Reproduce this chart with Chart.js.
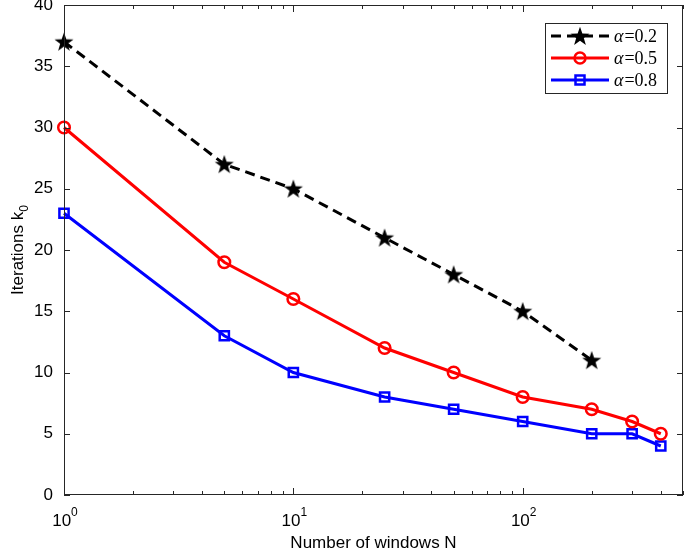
<!DOCTYPE html>
<html>
<head>
<meta charset="utf-8">
<script src="https://cdn.jsdelivr.net/npm/chart.js@4.4.1/dist/chart.umd.min.js"></script>
<style>
  html, body { margin: 0; padding: 0; background: #fff; overflow: hidden; }
</style>
</head>
<body>
<canvas id="chart" width="685" height="555"></canvas>
<script>
// values
var windowsN = [1, 5, 10, 25, 50, 100, 200, 300, 400];
var iterAlpha02 = [37, 27, 25, 21, 18, 15, 11];
var iterAlpha05 = [30, 19, 16, 12, 10, 8, 7, 6, 5];
var iterAlpha08 = [23, 13, 10, 8, 7, 6, 5, 5, 4];
var seriesLabels = ["0.2", "0.5", "0.8"];
var xMajorTicks = [1, 10, 100];
var yTickValues = [0, 5, 10, 15, 20, 25, 30, 35, 40];

var sansFont = "'Liberation Sans', Arial, sans-serif";
var serifFont = "'Liberation Serif', 'Times New Roman', serif";
var axisColor = "#262626";
var dashPattern = [10, 6];

function toPoints(ys) {
  return ys.map(function (y, i) { return { x: windowsN[i], y: y }; });
}

function starPath(ctx, cx, cy, rOut, rIn) {
  ctx.beginPath();
  for (var i = 0; i < 10; i++) {
    var r = i % 2 === 0 ? rOut : rIn;
    var a = -Math.PI / 2 + i * Math.PI / 5;
    var px = cx + r * Math.cos(a), py = cy + r * Math.sin(a);
    if (i === 0) ctx.moveTo(px, py); else ctx.lineTo(px, py);
  }
  ctx.closePath();
}

// filled star marker as an image point style
var starImg = document.createElement("canvas");
starImg.width = 22;
starImg.height = 22;
(function () {
  var c = starImg.getContext("2d");
  c.fillStyle = "#000";
  starPath(c, 11, 11.8, 10, 4);
  c.fill();
})();

function drawMarker(ctx, kind, x, y) {
  ctx.save();
  ctx.setLineDash([]);
  if (kind === "star") {
    ctx.drawImage(starImg, x - 11, y - 11);
  } else if (kind === "circle") {
    ctx.strokeStyle = "#ff0000";
    ctx.lineWidth = 2.5;
    ctx.beginPath();
    ctx.arc(x, y, 5.5, 0, Math.PI * 2);
    ctx.stroke();
  } else {
    ctx.strokeStyle = "#0000ff";
    ctx.lineWidth = 2.5;
    ctx.strokeRect(x - 4.5, y - 4.5, 9, 9);
  }
  ctx.restore();
}

function noPadding(scale) {
  scale.paddingTop = 0;
  scale.paddingBottom = 0;
  scale.paddingLeft = 0;
  scale.paddingRight = 0;
}

var boxPlugin = {
  id: "matlabBox",
  afterDraw: function (chart) {
    var ctx = chart.ctx;
    var a = chart.chartArea;
    var xs = chart.scales.x, ys = chart.scales.y;
    ctx.save();
    ctx.strokeStyle = axisColor;
    ctx.lineWidth = 1;
    ctx.strokeRect(a.left + 0.5, a.top + 0.5, a.right - a.left - 1, a.bottom - a.top - 1);

    // y ticks, inward on both sides
    ctx.beginPath();
    yTickValues.forEach(function (v) {
      var py = Math.round(ys.getPixelForValue(v)) + 0.5;
      ctx.moveTo(a.left, py); ctx.lineTo(a.left + 6, py);
      ctx.moveTo(a.right, py); ctx.lineTo(a.right - 6, py);
    });
    // x ticks, major and minor
    for (var d = 1; d <= 100; d *= 10) {
      for (var m = 1; m <= 9; m++) {
        var v = d * m;
        if (v > xs.max) continue;
        var len = m === 1 ? 7 : 4;
        var px = Math.round(xs.getPixelForValue(v)) + 0.5;
        ctx.moveTo(px, a.bottom); ctx.lineTo(px, a.bottom - len);
        ctx.moveTo(px, a.top); ctx.lineTo(px, a.top + len);
      }
    }
    ctx.stroke();

    // x tick labels 10^n
    ctx.fillStyle = "#000";
    ctx.textBaseline = "alphabetic";
    xMajorTicks.forEach(function (v) {
      var px = xs.getPixelForValue(v);
      var exp = String(Math.round(Math.log10(v)));
      ctx.font = "17px " + sansFont;
      var wBase = ctx.measureText("10").width;
      ctx.font = "12px " + sansFont;
      var wExp = ctx.measureText(exp).width;
      var x0 = px - (wBase + wExp) / 2 + 1;
      ctx.font = "17px " + sansFont;
      ctx.textAlign = "left";
      ctx.fillText("10", x0, 526);
      ctx.font = "12px " + sansFont;
      ctx.fillText(exp, x0 + wBase, 516);
    });

    // y axis title with subscript
    ctx.save();
    ctx.translate(23, (a.top + a.bottom) / 2);
    ctx.rotate(-Math.PI / 2);
    ctx.font = "17px " + sansFont;
    var t1 = "Iterations k";
    var w1 = ctx.measureText(t1).width;
    ctx.font = "12px " + sansFont;
    var w2 = ctx.measureText("0").width;
    var sx = -(w1 + w2) / 2;
    ctx.font = "17px " + sansFont;
    ctx.textAlign = "left";
    ctx.fillText(t1, sx, 0);
    ctx.font = "12px " + sansFont;
    ctx.fillText("0", sx + w1, 5);
    ctx.restore();

    // legend box inside the plot
    var lx = 545, ly = 23, lw = 122, lh = 70;
    ctx.fillStyle = "#fff";
    ctx.fillRect(lx, ly, lw, lh);
    ctx.strokeStyle = axisColor;
    ctx.strokeRect(lx + 0.5, ly + 0.5, lw, lh);
    var rows = [
      { color: "#000000", dash: dashPattern, marker: "star" },
      { color: "#ff0000", dash: [], marker: "circle" },
      { color: "#0000ff", dash: [], marker: "square" }
    ];
    rows.forEach(function (r, i) {
      var cy = ly + 13 + i * 22;
      ctx.save();
      ctx.strokeStyle = r.color;
      ctx.lineWidth = 3;
      ctx.setLineDash(r.dash);
      ctx.beginPath();
      ctx.moveTo(lx + 6, cy); ctx.lineTo(lx + 64, cy);
      ctx.stroke();
      ctx.restore();
      drawMarker(ctx, r.marker, lx + 35, cy);
      ctx.fillStyle = "#000";
      ctx.textAlign = "left";
      ctx.textBaseline = "middle";
      ctx.font = "italic 18px " + serifFont;
      ctx.fillText("\u03B1", lx + 69, cy + 1);
      var wa = ctx.measureText("\u03B1").width;
      ctx.font = "18px " + serifFont;
      ctx.fillText("=" + seriesLabels[i], lx + 69 + wa + 1, cy + 1);
    });
    ctx.restore();
  }
};

new Chart(document.getElementById("chart"), {
  type: "line",
  data: {
    datasets: [
      {
        label: "\u03B1=" + seriesLabels[0],
        data: toPoints(iterAlpha02),
        borderColor: "#000000",
        borderWidth: 3,
        borderDash: dashPattern,
        pointStyle: starImg,
        pointRadius: 10,
        clip: false
      },
      {
        label: "\u03B1=" + seriesLabels[1],
        data: toPoints(iterAlpha05),
        borderColor: "#ff0000",
        backgroundColor: "rgba(0,0,0,0)",
        borderWidth: 3,
        pointStyle: "circle",
        pointRadius: 5.8,
        pointBorderWidth: 2.5,
        clip: false
      },
      {
        label: "\u03B1=" + seriesLabels[2],
        data: toPoints(iterAlpha08),
        borderColor: "#0000ff",
        backgroundColor: "rgba(0,0,0,0)",
        borderWidth: 3,
        pointStyle: "rect",
        pointRadius: 6.5,
        pointBorderWidth: 2.5,
        clip: false
      }
    ]
  },
  options: {
    responsive: false,
    animation: false,
    devicePixelRatio: 1,
    layout: { autoPadding: false, padding: { top: 5, right: 2, left: 0, bottom: 0 } },
    plugins: {
      legend: { display: false },
      tooltip: { enabled: false }
    },
    scales: {
      x: {
        type: "logarithmic",
        min: 1,
        max: 500,
        border: { display: false },
        grid: { display: false, drawTicks: false },
        afterBuildTicks: function (scale) {
          scale.ticks = xMajorTicks.map(function (v) { return { value: v }; });
        },
        ticks: { display: false },
        afterFit: function (scale) { scale.height = 60; noPadding(scale); },
        title: {
          display: true,
          text: "Number of windows N",
          color: "#000",
          font: { family: sansFont, size: 17 },
          padding: { top: 0, bottom: 1 }
        }
      },
      y: {
        min: 0,
        max: 40,
        border: { display: false },
        grid: { display: false, drawTicks: false },
        afterBuildTicks: function (scale) {
          scale.ticks = yTickValues.map(function (v) { return { value: v }; });
        },
        ticks: {
          color: "#000",
          padding: 11,
          font: { family: sansFont, size: 17 }
        },
        afterFit: function (scale) { scale.width = 64; noPadding(scale); }
      }
    }
  },
  plugins: [boxPlugin]
});
</script>
</body>
</html>
